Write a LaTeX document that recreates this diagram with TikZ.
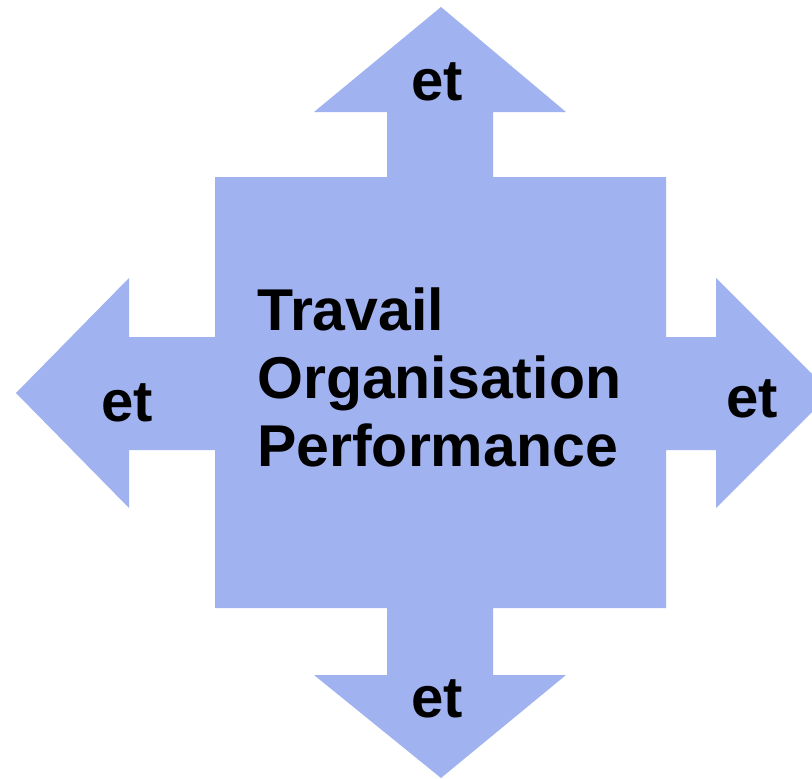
\documentclass[tikz,border=0pt]{standalone}
\usepackage{fontspec}
\setmainfont{Liberation Sans}
\definecolor{arrowblue}{RGB}{161,178,240}
\begin{document}
\begin{tikzpicture}[x=1pt,y=-1pt,
  lbl/.style={font=\fontsize{58}{60}\selectfont\bfseries, inner sep=0pt, anchor=base},
  mainlbl/.style={font=\fontsize{59}{61}\selectfont\bfseries, inner sep=0pt, anchor=base west}]
\useasboundingbox (0,0) rectangle (812,779);
\clip (0,0) rectangle (812,779);
\fill[arrowblue] (441,7) -- (566,112) -- (493,112) -- (493,177) -- (666,177) -- (666,337)
  -- (716,337) -- (716,278) -- (831,393) -- (716,508) -- (716,450) -- (666,450)
  -- (666,608) -- (493,608) -- (493,675) -- (566,675) -- (441,778) -- (314,675)
  -- (387,675) -- (387,608) -- (215,608) -- (215,450) -- (129,450) -- (129,508)
  -- (16,393) -- (129,278) -- (129,337) -- (215,337) -- (215,177) -- (387,177)
  -- (387,112) -- (314,112) -- cycle;
\node[lbl] (etTop) at (437,100) {et};
\node[lbl] (etLeft) at (127,421) {et};
\node[lbl] (etRight) at (752,417) {et};
\node[lbl] (etBottom) at (437,717) {et};
\node[mainlbl] (l1) at (257,330) {Travail};
\node[mainlbl] (l2) at (257,398) {Organisation};
\node[mainlbl] (l3) at (257,466) {Performance};
\end{tikzpicture}
\end{document}
